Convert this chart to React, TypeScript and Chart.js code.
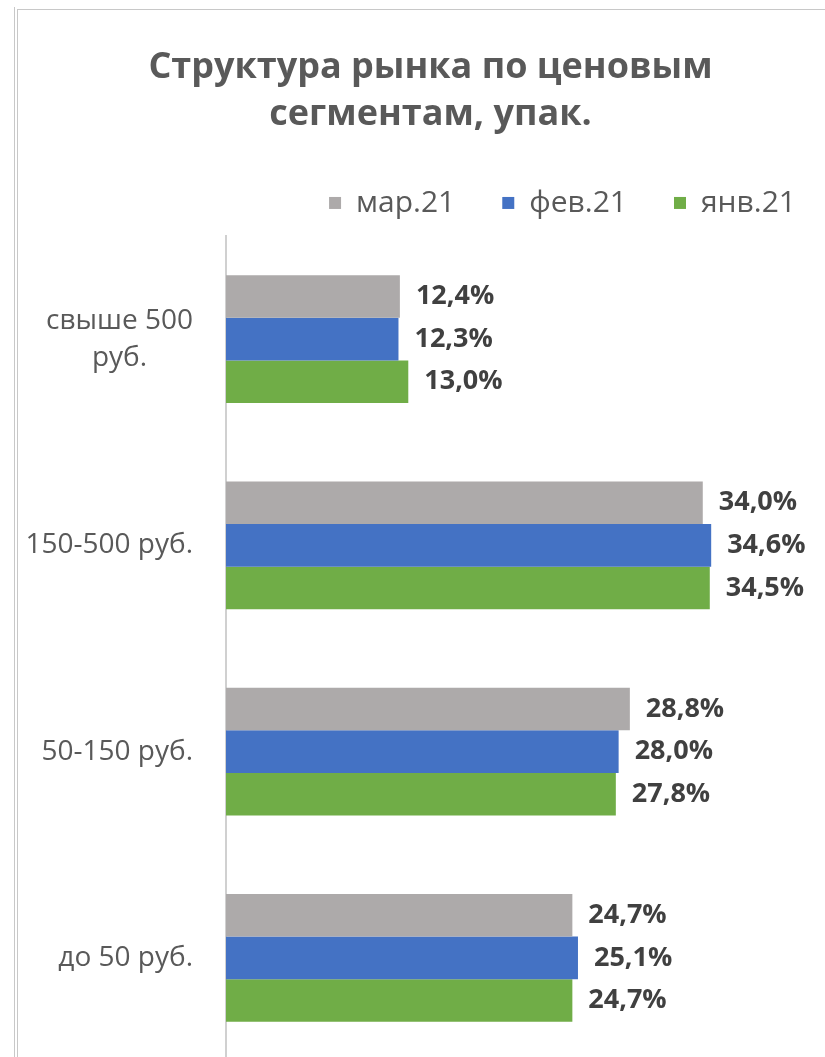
import React, { useEffect, useRef } from "react";
import { Chart, registerables } from "chart.js";

Chart.register(...registerables);

const TITLE_LINES = ["Структура рынка по ценовым", "сегментам, упак."];
const CATEGORIES: (string | string[])[] = [
  ["свыше 500", "руб."],
  "150-500 руб.",
  "50-150 руб.",
  "до 50 руб.",
];
const SERIES_NAMES = ["мар.21", "фев.21", "янв.21"];
const MAR21 = [12.4, 34.0, 28.8, 24.7];
const FEB21 = [12.3, 34.6, 28.0, 25.1];
const JAN21 = [13.0, 34.5, 27.8, 24.7];
const COLORS = ["#ADAAAA", "#4472C4", "#70AD47"];

const FONT = "'Open Sans', 'Noto Sans', sans-serif";

const fmt = (v: number) => v.toFixed(1).replace(".", ",") + "%";

const valueLabels = {
  id: "valueLabels",
  afterDatasetsDraw(chart: any) {
    const ctx = chart.ctx;
    ctx.save();
    ctx.font = `bold 27px ${FONT}`;
    ctx.fillStyle = "#404040";
    ctx.textAlign = "left";
    ctx.textBaseline = "middle";
    chart.data.datasets.forEach((ds: any, di: number) => {
      const meta = chart.getDatasetMeta(di);
      meta.data.forEach((el: any, i: number) => {
        ctx.fillText(fmt(ds.data[i]), el.x + 16, el.y);
      });
    });
    ctx.restore();
  },
};

const categoryLabels = {
  id: "categoryLabels",
  afterDraw(chart: any) {
    const ctx = chart.ctx;
    const scale = chart.scales.y;
    ctx.save();
    ctx.font = `28px ${FONT}`;
    ctx.fillStyle = "#595959";
    ctx.textAlign = "center";
    ctx.textBaseline = "middle";
    const rightEdge = 175;
    const lineH = 37;
    CATEGORIES.forEach((lab, i) => {
      const lines = Array.isArray(lab) ? lab : [lab];
      const maxW = Math.max(...lines.map((l) => ctx.measureText(l).width));
      const cx = rightEdge - maxW / 2;
      const cy = scale.getPixelForTick(i);
      const startY = cy - ((lines.length - 1) * lineH) / 2;
      lines.forEach((l, k) => ctx.fillText(l, cx, startY + k * lineH));
    });
    ctx.restore();
  },
};

export default function App() {
  const ref = useRef<HTMLCanvasElement>(null);

  useEffect(() => {
    if (!ref.current) return;
    const chart = new Chart(ref.current, {
      type: "bar",
      data: {
        labels: CATEGORIES as any,
        datasets: [
          { label: SERIES_NAMES[0], data: MAR21, backgroundColor: COLORS[0] },
          { label: SERIES_NAMES[1], data: FEB21, backgroundColor: COLORS[1] },
          { label: SERIES_NAMES[2], data: JAN21, backgroundColor: COLORS[2] },
        ],
      },
      options: {
        indexAxis: "y",
        responsive: false,
        animation: false,
        devicePixelRatio: 1,
        layout: { padding: { top: 0, left: 0, right: 0, bottom: 9 } },
        datasets: {
          bar: { categoryPercentage: 0.62, barPercentage: 1.0, borderWidth: 0 },
        },
        scales: {
          x: {
            position: "top",
            min: 0,
            max: 44,
            grid: { display: false },
            border: { display: false },
            ticks: { display: false },
            afterFit: (s: any) => {
              s.height = 8;
            },
          },
          y: {
            grid: { display: false },
            border: { display: true, color: "#D0D0D0", width: 2 },
            ticks: { display: false },
            afterFit: (s: any) => {
              s.width = 208;
            },
          },
        },
        plugins: {
          title: {
            display: true,
            text: TITLE_LINES,
            color: "#595959",
            font: { family: FONT, size: 36, weight: "bold", lineHeight: 1.305 },
            padding: { top: 34, bottom: 3 },
          },
          legend: {
            display: true,
            position: "top",
            align: "end",
            labels: {
              color: "#595959",
              font: { family: FONT, size: 30 },
              boxWidth: 12,
              boxHeight: 12,
              padding: 47,
            },
          },
          tooltip: { enabled: false },
        },
      },
      plugins: [valueLabels, categoryLabels],
    });
    return () => chart.destroy();
  }, []);

  return (
    <div
      style={{
        position: "absolute",
        left: 0,
        top: 0,
        width: 825,
        height: 1057,
        overflow: "hidden",
        background: "#FFFFFF",
      }}
    >
      <div
        style={{
          position: "absolute",
          left: 14,
          top: 7,
          width: 1,
          height: 1060,
          background: "#C8C8C8",
        }}
      />
      <div
        style={{
          position: "absolute",
          left: 17,
          top: 9,
          width: 840,
          height: 1070,
          borderLeft: "1px solid #C8C8C8",
          borderTop: "1px solid #C8C8C8",
        }}
      />
      <canvas
        ref={ref}
        width={825}
        height={1060}
        style={{ position: "absolute", left: 18, top: 10, width: 825, height: 1060 }}
      />
    </div>
  );
}
